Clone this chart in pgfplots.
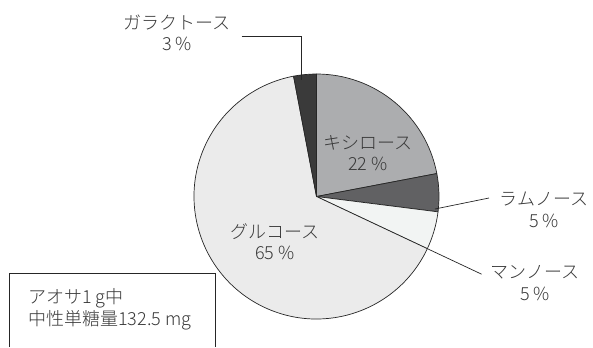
\documentclass[border=0pt]{standalone}
\usepackage{fontspec}
\setmainfont{Noto Sans CJK JP Light}
\usepackage{pgfplots}
\pgfplotsset{compat=1.18}

% shares of the neutral monosaccharides (%)
\def\vXyl{22}
\def\vRha{5}
\def\vMan{5}
\def\vGlu{65}
\def\vGal{3}

% slice boundaries, clockwise from 12 o'clock
\pgfmathsetmacro\aA{90}
\pgfmathsetmacro\aB{\aA-3.6*\vXyl}
\pgfmathsetmacro\aC{\aB-3.6*\vRha}
\pgfmathsetmacro\aD{\aC-3.6*\vMan}
\pgfmathsetmacro\aE{\aD-3.6*\vGlu}
\pgfmathsetmacro\aF{\aE-3.6*\vGal}

\definecolor{cXyl}{HTML}{ACADAF}
\definecolor{cRha}{HTML}{616163}
\definecolor{cMan}{HTML}{F2F4F3}
\definecolor{cGlu}{HTML}{EBEBEB}
\definecolor{cGal}{HTML}{3A3A3A}
\definecolor{cLine}{HTML}{262626}
\definecolor{cText}{HTML}{383838}

\def\R{122.5bp}
\newcommand\pct[1]{#1\hspace{0.22em}\%}
\newcommand\lblfont{\fontsize{18bp}{21.5bp}\selectfont}
\tikzset{lbl/.style={text=cText, font=\lblfont, inner sep=0pt}}

\begin{document}
\begin{tikzpicture}
\begin{axis}[
  width=593bp, height=347bp, scale only axis,
  xmin=0, xmax=593, ymin=0, ymax=347, y dir=reverse,
  hide axis, clip=false,
]
\path (rel axis cs:0,0) rectangle (rel axis cs:1,1);
\coordinate (O) at (axis cs:316.5,196.5);

\begin{scope}[draw=cLine, line width=0.7bp, line join=round]
\filldraw[fill=cXyl] (O) -- ++(\aA:\R) arc[start angle=\aA, end angle=\aB, radius=\R] -- cycle;
\filldraw[fill=cRha] (O) -- ++(\aB:\R) arc[start angle=\aB, end angle=\aC, radius=\R] -- cycle;
\filldraw[fill=cMan] (O) -- ++(\aC:\R) arc[start angle=\aC, end angle=\aD, radius=\R] -- cycle;
\filldraw[fill=cGlu] (O) -- ++(\aD:\R) arc[start angle=\aD, end angle=\aE, radius=\R] -- cycle;
\filldraw[fill=cGal] (O) -- ++(\aE:\R) arc[start angle=\aE, end angle=\aF, radius=\R] -- cycle;
\end{scope}

% leader lines
\draw[cLine, line width=0.7bp] (axis cs:241.7,36.7) -- (axis cs:301.7,36.7) -- (axis cs:301.7,80);
\draw[cLine, line width=0.7bp] (axis cs:435,209) -- (axis cs:489,198);
\draw[cLine, line width=0.7bp] (O) ++(\aD:\R) -- ++(\aD:60bp);

% labels
\node[lbl, align=center] at (axis cs:177,33) {ガラクトース\\\pct{3}};
\node[lbl, align=center] at (axis cs:368,153) {キシロース\\\pct{22}};
\node[lbl, align=center] at (axis cs:275,241.5) {グルコース\\\pct{65}};
\node[lbl, align=center] at (axis cs:544,210) {ラムノース\\\pct{5}};
\node[lbl, align=center] at (axis cs:535,283) {マンノース\\\pct{5}};

% note box (runs off the lower edge)
\draw[cLine, line width=0.7bp] (axis cs:9.5,347) -- (axis cs:9.5,273.3) -- (axis cs:215,273.3) -- (axis cs:215,347);
\node[lbl, align=left, anchor=west] at (axis cs:28,309.5) {アオサ1 g中\\中性単糖量132.5 mg};
\end{axis}
\end{tikzpicture}
\end{document}
